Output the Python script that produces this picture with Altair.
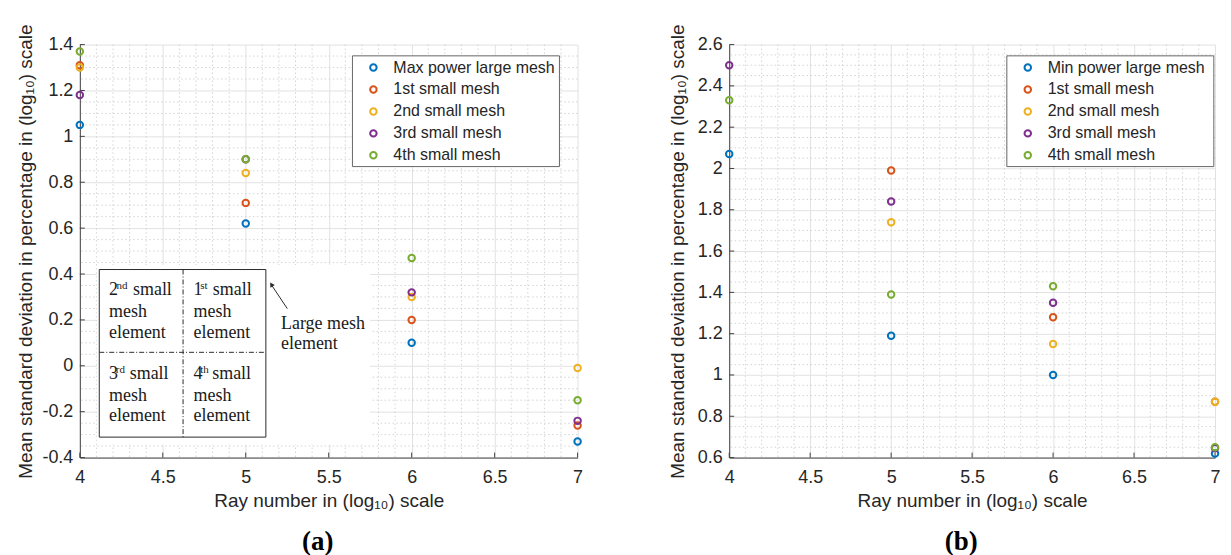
import altair as alt
import pandas as pd

# ---------------- data ----------------
rays = [4, 5, 6, 7]

names_a = ["Max power large mesh", "1st small mesh", "2nd small mesh", "3rd small mesh", "4th small mesh"]
names_b = ["Min power large mesh", "1st small mesh", "2nd small mesh", "3rd small mesh", "4th small mesh"]
colors = ["#0072BD", "#D95319", "#EDB120", "#7E2F8E", "#77AC30"]

# panel (a)
large_a = [1.05, 0.62, 0.10, -0.33]
small1_a = [1.31, 0.71, 0.20, -0.26]
small2_a = [1.30, 0.84, 0.30, -0.01]
small3_a = [1.18, 0.90, 0.32, -0.24]
small4_a = [1.37, 0.90, 0.47, -0.15]

# panel (b)  (None = outside the plotted range)
large_b = [2.07, 1.19, 1.00, 0.62]
small1_b = [None, 1.99, 1.28, 0.87]
small2_b = [None, 1.74, 1.15, 0.87]
small3_b = [2.50, 1.84, 1.35, 0.645]
small4_b = [2.33, 1.39, 1.43, 0.65]

xticks = [4, 4.5, 5, 5.5, 6, 6.5, 7]
yticks_a = [-0.4, -0.2, 0, 0.2, 0.4, 0.6, 0.8, 1.0, 1.2, 1.4]
yticks_b = [0.6, 0.8, 1.0, 1.2, 1.4, 1.6, 1.8, 2.0, 2.2, 2.4, 2.6]

x_title = "Ray number in (log\u2081\u2080) scale"
y_title = "Mean standard deviation in percentage in (log\u2081\u2080) scale"

FONT = "Liberation Sans"
SERIF = "Liberation Serif"


def long_df(names, series):
    rows = []
    for k, (n, vals) in enumerate(zip(names, series)):
        for r, v in zip(rays, vals):
            if v is not None:
                rows.append({"ray": r, "val": v, "series": n, "ord": k})
    return pd.DataFrame(rows)


df_a = long_df(names_a, [large_a, small1_a, small2_a, small3_a, small4_a])
df_b = long_df(names_b, [large_b, small1_b, small2_b, small3_b, small4_b])

x_minor = [round(4 + 0.1 * i, 2) for i in range(1, 30) if i % 5 != 0]
y_minor_a = [round(-0.4 + 0.05 * i, 3) for i in range(1, 36) if i % 4 != 0]
y_minor_b = [round(0.6 + 0.05 * i, 3) for i in range(1, 40) if i % 4 != 0]

one = pd.DataFrame({"a": [0]})


def rect(x1, x2, y1, y2, **kw):
    return alt.Chart(one).mark_rect(**kw).encode(
        x=alt.value(x1), x2=alt.value(x2), y=alt.value(y1), y2=alt.value(y2))


def rule(x1, x2, y1, y2, **kw):
    return alt.Chart(one).mark_rule(**kw).encode(
        x=alt.value(x1), x2=alt.value(x2), y=alt.value(y1), y2=alt.value(y2))


def txt(t, x, y, size):
    return alt.Chart(one).mark_text(
        align="left", baseline="alphabetic", font=SERIF, fontSize=size, color="#1a1a1a"
    ).encode(x=alt.value(x), y=alt.value(y), text=alt.value(t))


def panel(df, names, W, H, ydom, yticks, yminor, tag, box_x, ypad, extra):
    xs = alt.Scale(domain=[4, 7], nice=False, zero=False)
    ys = alt.Scale(domain=ydom, nice=False, zero=False)
    xax = alt.Axis(values=xticks, format="~g", grid=True, labelFlush=False,
                   labelPadding=11, titlePadding=5)
    yax = alt.Axis(values=yticks, format="~g", grid=True, labelFlush=False,
                   labelPadding=7, titlePadding=ypad,
                   labelExpr="replace(datum.label, '\u2212', '-')")
    X = alt.X("ray:Q", scale=xs, title=x_title, axis=xax)
    Y = alt.Y("val:Q", scale=ys, title=y_title, axis=yax)

    minor_x = alt.Chart(pd.DataFrame({"ray": x_minor})).mark_rule(
        color="#c9c9c9", strokeWidth=0.8, strokeDash=[1.5, 2.5]
    ).encode(x=X)
    minor_y = alt.Chart(pd.DataFrame({"val": yminor})).mark_rule(
        color="#c9c9c9", strokeWidth=0.8, strokeDash=[1.5, 2.5]
    ).encode(y=Y)

    tick_x = alt.Chart(pd.DataFrame({"ray": xticks})).mark_rule(
        color="#404040", strokeWidth=1
    ).encode(x=X, y=alt.value(H), y2=alt.value(H - 5))
    tick_y = alt.Chart(pd.DataFrame({"val": yticks})).mark_rule(
        color="#404040", strokeWidth=1
    ).encode(y=Y, x=alt.value(0), x2=alt.value(5))

    # legend frame (drawn as a mark, the legend itself sits on top)
    frame = rect(box_x, box_x + 207.5, 11.3, 122.3, fill="white",
                 stroke="#666666", strokeWidth=1)

    pts = alt.Chart(df).mark_point(
        shape="circle", filled=False, size=42, strokeWidth=2, opacity=1
    ).encode(
        x=X,
        y=Y,
        color=alt.Color("series:N", sort=names,
                        scale=alt.Scale(domain=names, range=colors),
                        title=None,
                        legend=alt.Legend(orient="none", legendX=box_x + 13, legendY=15,
                                          symbolType="circle", symbolSize=42,
                                          symbolStrokeWidth=2, padding=0, rowPadding=6,
                                          labelOffset=12, symbolOffset=0,
                                          labelFontSize=16, labelFont=FONT,
                                          labelColor="#262626", labelLimit=400,
                                          zindex=1)),
        order=alt.Order("ord:Q"),
    )

    layers = [minor_x, minor_y] + extra + [frame, tick_x, tick_y, pts]
    return alt.layer(*layers).properties(
        width=W, height=H,
        title=alt.TitleParams(tag, orient="bottom", font=SERIF, fontSize=27,
                              fontWeight="bold", color="black", offset=19,
                              anchor="middle", dx=-11),
    )


# ---------------- inset drawing for panel (a) ----------------
inset = [
    rect(17, 291, 221, 401, fill="white"),
    rect(19.5, 186.5, 225.5, 393.5, fill="white", stroke="#2b2b2b", strokeWidth=1),
    rule(103.5, 103.5, 225.5, 393.5, color="#2b2b2b", strokeWidth=1, strokeDash=[5, 2, 1, 2]),
    rule(19.5, 186.5, 308.5, 308.5, color="#2b2b2b", strokeWidth=1, strokeDash=[5, 2, 1, 2]),
]
cells = [
    # digit, sup, x_digit, x_sup, x_small, baseline of first line
    ("2", "nd", 29.3, 36.7, 53.3, 251.3),
    ("1", "st", 114.0, 120.7, 133.3, 251.3),
    ("3", "rd", 29.3, 36.0, 50.0, 335.3),
    ("4", "th", 114.0, 120.7, 132.7, 335.3),
]
for d, s, xd, xs_, xsm, yb in cells:
    inset += [
        txt(d, xd, yb, 18),
        txt(s, xs_, yb - 6, 11),
        txt("small", xsm, yb, 18),
        txt("mesh", xd, yb + 21.5, 18),
        txt("element", xd, yb + 42.5, 18),
    ]
inset += [
    txt("Large mesh", 201.7, 284.7, 18),
    txt("element", 201.7, 305.0, 18),
    rule(208, 192.5, 264.7, 241.5, color="#2b2b2b", strokeWidth=1),
    alt.Chart(one).mark_point(shape="triangle-up", filled=True, size=28, angle=326,
                              color="#2b2b2b", opacity=1).encode(
        x=alt.value(192.0), y=alt.value(240.5)),
]

left = panel(df_a, names_a, 499, 414, [-0.4, 1.4], yticks_a, y_minor_a, "(a)", 273.3, 6, inset)
right = panel(df_b, names_b, 487, 414, [0.6, 2.6], yticks_b, y_minor_b, "(b)", 278.3, 10, [])

chart = alt.hconcat(left, right, spacing=82).resolve_scale(
    color="independent", x="independent", y="independent"
).properties(
    padding={"left": 8, "top": 15, "right": 0, "bottom": 0}
).configure_view(stroke=None).configure_axis(
    labelFont=FONT, labelFontSize=18, labelColor="#262626",
    titleFont=FONT, titleFontSize=19, titleFontWeight="normal", titleColor="#262626",
    domainColor="#404040", domainWidth=1, gridColor="#e2e2e2", gridWidth=1, ticks=False,
)

chart.save("out.html", embed_options={"renderer": "svg", "actions": False})
